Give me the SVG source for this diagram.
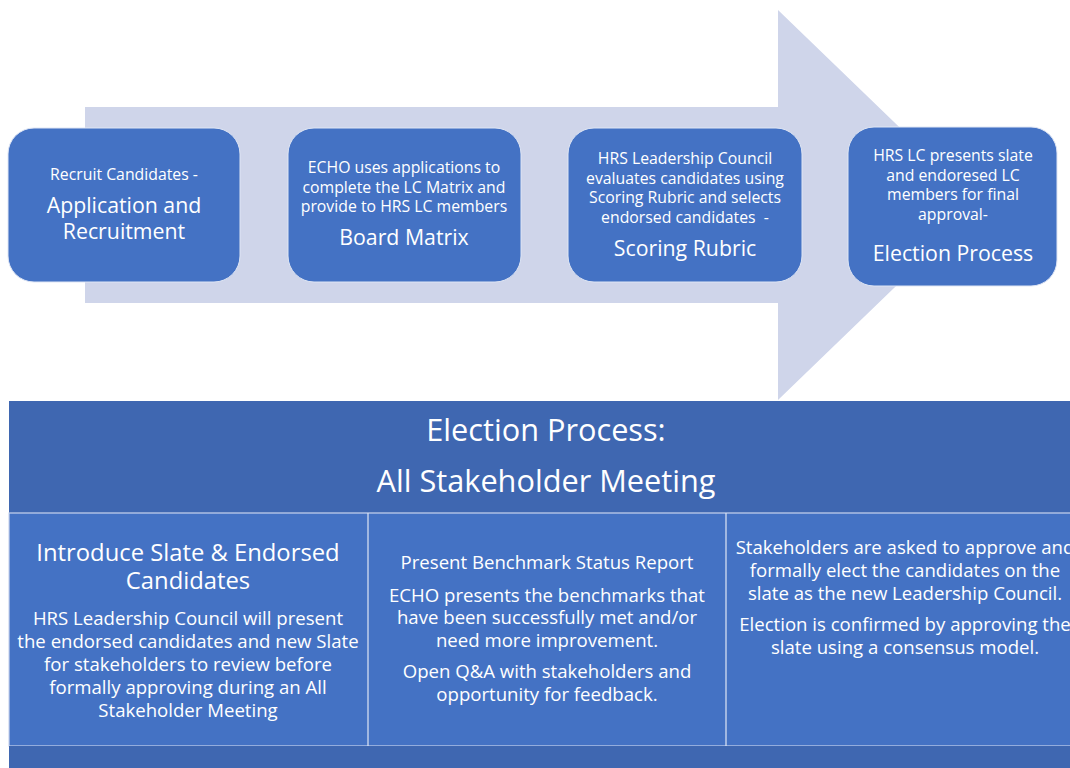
<svg xmlns="http://www.w3.org/2000/svg" width="1070" height="768" viewBox="0 0 1070 768">
<style>
text{font-family:"Open Sans","Noto Sans","Liberation Sans",sans-serif;fill:#ffffff;text-anchor:middle}
.s{font-size:15.8px}
.l{font-size:21.3px}
.box{fill:#4472C4;stroke:#dfe6f5;stroke-width:1}
.b{font-size:18.6px}
.h{font-size:30.7px}
.t{font-size:23.8px}
</style>
<rect width="1070" height="768" fill="#ffffff"/>
<polygon id="arrow" points="85,107 778,107 778,10 980,205 778,400 778,303 85,303" fill="#CFD5EA"/>
<g id="n1"><rect class="box" x="8" y="128" width="232" height="154" rx="26"/>
<text class="s" x="124" y="179.5">Recruit Candidates -</text>
<text class="l" x="124" y="212.5">Application and</text>
<text class="l" x="124" y="238.5">Recruitment</text></g>
<g id="n2"><rect class="box" x="288" y="128" width="233" height="154" rx="26"/>
<text class="s" x="404" y="172.5">ECHO uses applications to</text>
<text class="s" x="404" y="192.5">complete the LC Matrix and</text>
<text class="s" x="404" y="211.5">provide to HRS LC members</text>
<text class="l" x="404" y="244.5">Board Matrix</text></g>
<g id="n3"><rect class="box" x="568" y="128" width="234" height="154" rx="26"/>
<text class="s" x="685" y="163.5">HRS Leadership Council</text>
<text class="s" x="685" y="183.5">evaluates candidates using</text>
<text class="s" x="685" y="202.5">Scoring Rubric and selects</text>
<text class="s" x="685" y="222.5" xml:space="preserve">endorsed candidates  -</text>
<text class="l" x="685" y="255.5">Scoring Rubric</text></g>
<g id="n4"><rect class="box" x="848" y="127" width="209" height="159" rx="26"/>
<text class="s" x="953" y="160.5">HRS LC presents slate</text>
<text class="s" x="953" y="180.5">and endoresed LC</text>
<text class="s" x="953" y="199.5">members for final</text>
<text class="s" x="953" y="219.5">approval-</text>
<text class="l" x="953" y="260.5">Election Process</text></g>
<g id="table">
<rect x="9" y="401" width="1070" height="112" fill="#3F67B1"/>
<rect x="9" y="513" width="1070" height="233" fill="#4472C4" stroke="#c9d4ee" stroke-width="1.2"/>
<line x1="368" y1="513" x2="368" y2="746" stroke="#dfe6f5" stroke-width="1.2"/>
<line x1="726" y1="513" x2="726" y2="746" stroke="#dfe6f5" stroke-width="1.2"/>
<rect x="9" y="746" width="1070" height="22" fill="#3F67B1"/>
<text class="h" x="546" y="441">Election Process:</text>
<text class="h" x="546" y="492">All Stakeholder Meeting</text>
<text class="t" x="188" y="560.5">Introduce Slate &amp; Endorsed</text>
<text class="t" x="188" y="588.5">Candidates</text>
<text class="b" x="188" y="624.5">HRS Leadership Council will present</text>
<text class="b" x="188" y="647.5">the endorsed candidates and new Slate</text>
<text class="b" x="188" y="670.5">for stakeholders to review before</text>
<text class="b" x="188" y="693.5">formally approving during an All</text>
<text class="b" x="188" y="716.5">Stakeholder Meeting</text>
<text class="b" x="547" y="568.5">Present Benchmark Status Report</text>
<text class="b" x="547" y="601.5">ECHO presents the benchmarks that</text>
<text class="b" x="547" y="623.5">have been successfully met and/or</text>
<text class="b" x="547" y="646.5">need more improvement.</text>
<text class="b" x="547" y="677.5">Open Q&amp;A with stakeholders and</text>
<text class="b" x="547" y="700.5">opportunity for feedback.</text>
<text class="b" x="905" y="553.5">Stakeholders are asked to approve and</text>
<text class="b" x="905" y="576.5">formally elect the candidates on the</text>
<text class="b" x="905" y="599.5">slate as the new Leadership Council.</text>
<text class="b" x="905" y="630.5">Election is confirmed by approving the</text>
<text class="b" x="905" y="653.5">slate using a consensus model.</text>
</g>
</svg>
